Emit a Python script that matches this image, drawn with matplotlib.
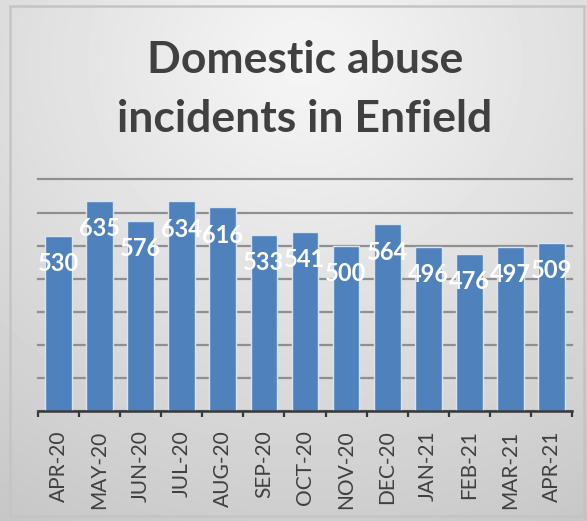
import numpy as np
import matplotlib.pyplot as plt
from matplotlib.patches import Rectangle

months = ["APR-20", "MAY-20", "JUN-20", "JUL-20", "AUG-20", "SEP-20", "OCT-20",
          "NOV-20", "DEC-20", "JAN-21", "FEB-21", "MAR-21", "APR-21"]
incidents = [530, 635, 576, 634, 616, 533, 541, 500, 564, 496, 476, 497, 509]

W, H, DPI = 587, 521, 100
fig = plt.figure(figsize=(W / DPI, H / DPI), dpi=DPI)

# soft grey radial background
bg = fig.add_axes([0, 0, 1, 1], zorder=-10)
yy, xx = np.mgrid[0:1:H * 1j, 0:1:W * 1j]
d = np.sqrt(((xx - 0.52) / 1.0) ** 2 + ((yy - 0.12) / 1.05) ** 2)
shade = np.clip(0.965 - 0.19 * d, 0, 1)
bg.imshow(shade, cmap="gray", vmin=0, vmax=1, aspect="auto", extent=[0, 1, 0, 1])
bg.set_axis_off()

# outer frame of the chart
fig.patches.append(Rectangle((10 / W, 1 - 516 / H), 574 / W, 510 / H,
                             transform=fig.transFigure, fill=False,
                             edgecolor="#c4c4c4", linewidth=1.8))

fig.text(305 / W, 1 - 73 / H, "Domestic abuse", ha="center", va="baseline",
         fontsize=32, fontweight="bold", family="Lato", color="#404040")
fig.text(305 / W, 1 - 132 / H, "incidents in Enfield", ha="center", va="baseline",
         fontsize=32, fontweight="bold", family="Lato", color="#404040")

ax = fig.add_axes([38 / W, 1 - 411 / H, (572 - 38) / W, (411 - 179.5) / H])
ax.patch.set_alpha(0)
x = np.arange(len(months))
ax.bar(x, incidents, width=0.65, color="#4f81bd", edgecolor="#dbe5f1",
       linewidth=1.0, zorder=3)

for xi, v in zip(x, incidents):
    ax.annotate(str(v), (xi, v), xytext=(0, -20), textcoords="offset points",
                ha="center", va="center", color="white", fontsize=17,
                fontweight="bold", family="Lato", zorder=5)

ax.set_xlim(-0.5, len(months) - 0.5)
ax.set_ylim(0, 700)
ax.set_yticks(range(0, 701, 100))
ax.set_yticklabels([])
ax.tick_params(axis="y", length=0)
ax.yaxis.grid(True, color="#8f8f8f", linewidth=1.6, zorder=1)
for gl in ax.get_ygridlines():
    gl.set_clip_on(False)
ax.set_axisbelow(True)

ax.set_xticks(x)
ax.set_xticklabels(months, rotation=90, family="Lato", fontsize=15, color="#404040")
ax.set_xticks(np.arange(-0.5, len(months)), minor=True)
ax.tick_params(axis="x", which="major", length=0, pad=14)
ax.tick_params(axis="x", which="minor", length=4, width=1.6, color="#383838")

for side in ("left", "right", "top"):
    ax.spines[side].set_visible(False)
ax.spines["bottom"].set_color("#383838")
ax.spines["bottom"].set_linewidth(1.8)
ax.spines["bottom"].set_zorder(4)

fig.savefig("out.png", dpi=DPI)
